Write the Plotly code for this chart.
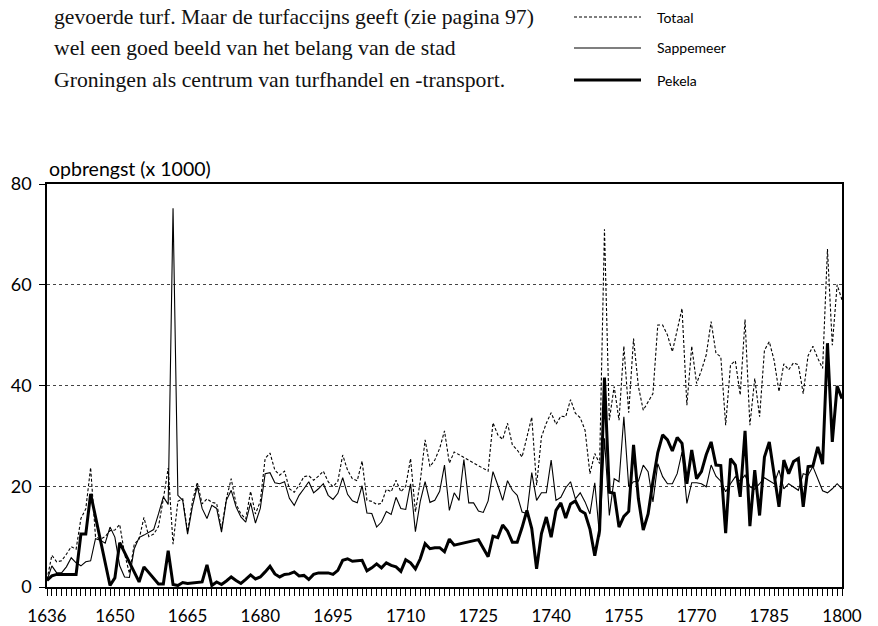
import plotly.graph_objects as go

years = list(range(1636, 1801))

totaal = [
    1.5, 6.3, 5.0, 5.2, 6.5, 8.0, 7.5, 13.6, 15.5, 23.7,          # 1636-1645
    10.0, 9.5, 10.0, 11.2, 11.3, 12.4, 6.6, 2.7, 8.5, 9.5,        # 1646-1655
    13.8, 10.0, 10.5, 12.0, 17.5, 23.6, 8.5, 17.0, 17.5, 11.0,    # 1656-1665
    17.0, 20.8, 16.5, 17.5, 16.8, 16.6, 11.5, 17.5, 21.5, 16.5,   # 1666-1675
    14.5, 13.5, 19.0, 14.5, 17.0, 25.5, 26.6, 23.2, 22.2, 23.0,   # 1676-1685
    19.5, 18.8, 20.2, 21.9, 22.1, 21.2, 22.0, 23.0, 20.9, 19.9,   # 1686-1695
    21.0, 26.2, 23.2, 21.5, 21.1, 25.0, 17.2, 17.0, 16.4, 16.6,   # 1696-1705
    19.4, 18.9, 21.2, 18.9, 20.0, 25.5, 14.9, 21.0, 29.2, 23.9,   # 1706-1715
    25.2, 27.5, 31.0, 24.6, 26.8, None, None, None, None, None,   # 1716-1725
    None, 23.0, 32.6, 30.2, 29.3, 32.5, 28.2, 27.2, 25.8, 30.0,   # 1726-1735
    33.7, 20.2, 29.8, 32.5, 34.6, 32.3, 33.9, 33.8, 37.2, 34.5,   # 1736-1745
    33.6, 31.1, 22.5, 26.5, 24.5, 71.0, 33.1, 39.8, 33.1, 47.8,   # 1746-1755
    34.6, 49.3, 39.8, 35.1, 36.8, 38.4, 52.0, 52.0, 50.0, 46.7,   # 1756-1765
    51.0, 55.3, 36.1, 47.8, 40.4, 43.0, 46.1, 52.7, 46.4, 45.7,   # 1766-1775
    32.1, 44.1, 44.9, 38.1, 53.1, 32.1, 41.4, 33.8, 47.0, 48.7,   # 1776-1785
    45.0, 38.8, 44.3, 43.1, 44.5, 44.1, 38.4, 45.9, 47.8, 45.4,   # 1786-1795
    43.4, 67.1, 48.0, 60.0, 57.0,                                 # 1796-1800
]

sappemeer = [
    1.3, 4.2, 2.8, 2.8, 4.0, 5.8, 4.8, 4.2, 5.0, 5.2,             # 1636-1645
    9.6, 9.3, 8.7, 11.9, 9.9, 4.2, 2.0, 1.9, 7.6, 9.8,            # 1646-1655
    10.3, 10.8, 11.4, 14.5, 17.9, 16.4, 75.2, 18.2, 17.2, 10.5,   # 1656-1665
    16.0, 20.0, 15.6, 13.6, 16.2, 15.6, 10.9, 17.2, 19.2, 15.9,   # 1666-1675
    13.9, 12.9, 16.7, 12.7, 15.6, 22.5, 22.7, 20.7, 20.5, 20.9,   # 1676-1685
    17.6, 16.2, 18.2, 19.5, 20.9, 18.7, 19.5, 20.5, 18.2, 17.4,   # 1686-1695
    18.6, 21.7, 18.4, 17.1, 16.7, 20.1, 14.7, 14.6, 11.9, 12.9,   # 1696-1705
    15.0, 14.4, 17.8, 15.6, 15.4, 20.5, 11.0, 17.0, 20.9, 16.8,   # 1706-1715
    17.2, 19.0, 24.2, 15.2, 18.7, 17.2, 25.3, 16.7, 16.7, 15.1,   # 1716-1725
    14.8, 17.1, 22.9, 20.2, 17.2, 21.1, 19.2, 18.2, 14.9, 14.6,   # 1726-1735
    22.7, 17.2, 18.7, 18.7, 25.2, 17.2, 17.8, 19.7, 20.9, 17.5,   # 1736-1745
    18.7, 16.9, 14.5, 20.7, 10.0, 29.5, 14.2, 21.5, 20.9, 33.8,   # 1746-1755
    19.9, 20.9, 21.0, 24.2, 22.9, 16.9, 24.5, 21.9, 20.5, 20.5,   # 1756-1765
    22.5, 26.8, 16.6, 20.7, 20.7, 20.5, 19.9, 24.2, 22.0, 21.0,   # 1766-1775
    18.9, 20.5, 21.9, 21.0, 22.2, 19.9, 19.4, 20.5, 21.7, 21.1,   # 1776-1785
    20.5, 23.2, 19.5, 20.5, 19.9, 19.2, 22.5, 22.2, 23.9, 21.3,   # 1786-1795
    19.1, 18.7, 19.5, 20.5, 19.5,                                 # 1796-1800
]

pekela = [
    1.3, 2.2, 2.5, 2.5, 2.5, 2.5, 2.5, 10.5, 10.5, 18.5,          # 1636-1645
    None, None, None, 0.3, 1.8, 8.8, None, None, None, 1.0,       # 1646-1655
    4.0, None, None, 0.6, 0.6, 7.2, 0.5, 0.3, 0.9, 0.7,           # 1656-1665
    0.8, 1.0, 1.0, 4.4, 0.3, 1.0, 0.5, 1.2, 2.0, 1.3,             # 1666-1675
    0.7, 1.5, 2.4, 1.6, 2.0, 3.0, 4.1, 2.6, 2.0, 2.5,             # 1676-1685
    2.6, 3.0, 2.2, 2.3, 1.5, 2.5, 2.8, 2.8, 2.8, 2.5,             # 1686-1695
    3.3, 5.3, 5.6, 5.1, 5.2, 5.3, 3.2, 3.8, 4.6, 3.8,             # 1696-1705
    4.8, 4.3, 4.0, 3.1, 5.4, 4.8, 3.6, 5.6, 8.6, 7.6,             # 1706-1715
    7.8, 7.8, 7.0, 9.5, 8.3, None, None, None, None, 9.4,         # 1716-1725
    None, 6.0, 10.1, 9.8, 12.3, 11.1, 8.9, 8.9, 11.8, 15.2,       # 1726-1735
    11.6, 3.6, 10.6, 13.9, 9.9, 15.2, 16.7, 13.7, 16.5, 17.1,     # 1736-1745
    15.2, 14.6, 11.5, 6.2, 11.3, 41.6, 18.8, 18.6, 11.9, 14.0,    # 1746-1755
    15.0, 28.2, 17.5, 11.3, 14.5, 21.0, 26.7, 30.2, 29.2, 27.0,   # 1756-1765
    29.7, 28.5, 20.5, 27.2, 21.5, 22.9, 26.3, 28.8, 24.2, 24.1,   # 1766-1775
    10.7, 25.5, 24.2, 17.9, 31.0, 12.1, 23.2, 14.2, 25.8, 28.8,   # 1776-1785
    22.2, 15.9, 25.2, 22.5, 24.9, 25.5, 15.9, 23.9, 24.0, 27.8,   # 1786-1795
    24.4, 48.4, 28.8, 39.9, 37.4,                                 # 1796-1800
]

series_names = ["Totaal", "Sappemeer", "Pekela"]
x_tick_labels = [1636, 1650, 1665, 1680, 1695, 1710, 1725, 1740, 1755, 1770, 1785, 1800]
y_tick_labels = [0, 20, 40, 60, 80]
y_title = "opbrengst (x 1000)"
intro_lines = [
    "gevoerde turf. Maar de turfaccijns geeft (zie pagina 97)",
    "wel een goed beeld van het belang van de stad",
    "Groningen als centrum van turfhandel en -transport.",
]

# The page body has an 8px default margin, so the figure is drawn 8px smaller
# and all reference-pixel positions below are shifted by that offset.
OFF = 8
W, H = 878 - OFF, 626 - OFF
PLOT_L, PLOT_R, PLOT_T, PLOT_B = 47, 842, 184, 587   # reference pixels
ML, MR = PLOT_L - OFF, 878 - PLOT_R - OFF + OFF - OFF + OFF - OFF
MR = W - (PLOT_R - OFF)
MT = PLOT_T - OFF
MB = H - (PLOT_B - OFF)
PW, PH = W - ML - MR, H - MT - MB


def px_x(px):
    return (px - OFF - ML) / PW


def px_y(py):
    return (H - MB - (py - OFF)) / PH


SANS = "Lato, 'Open Sans', sans-serif"
SERIF = "'Liberation Serif', 'DejaVu Serif', serif"

styles = {
    "Totaal": dict(color="black", width=1.1, dash="3px,2px"),
    "Sappemeer": dict(color="black", width=1.1),
    "Pekela": dict(color="black", width=3),
}
data = {"Totaal": totaal, "Sappemeer": sappemeer, "Pekela": pekela}

fig = go.Figure()
for name in series_names:
    fig.add_trace(go.Scatter(
        x=years, y=data[name], mode="lines", name=name,
        line=styles[name], connectgaps=True, showlegend=False,
    ))

fig.update_layout(
    width=W, height=H,
    margin=dict(l=ML, r=MR, t=MT, b=MB, pad=0, autoexpand=False),
    paper_bgcolor="white", plot_bgcolor="white",
    font=dict(family=SANS, color="black"),
)

fig.update_xaxes(
    range=[1636, 1800], automargin=False,
    tickvals=x_tick_labels, ticktext=[str(v) for v in x_tick_labels],
    ticks="outside", ticklen=7, tickwidth=1, tickcolor="black",
    minor=dict(dtick=1, tick0=1636, ticks="outside", ticklen=7, tickwidth=1, tickcolor="black", showgrid=False),
    showline=True, linecolor="black", linewidth=1.5, mirror=True,
    showgrid=False, zeroline=False,
    tickfont=dict(family=SANS, size=17, color="black"),
    ticklabelstandoff=6,
)
fig.update_yaxes(
    range=[0, 80], automargin=False,
    tickvals=y_tick_labels,
    ticks="outside", ticklen=6, tickwidth=1, tickcolor="black",
    showline=True, linecolor="black", linewidth=1.5, mirror=True,
    showgrid=True, gridcolor="#444444", gridwidth=1, griddash="3px,3px",
    zeroline=False,
    tickfont=dict(family=SANS, size=18, color="black"),
    ticklabelstandoff=4,
)

annotations = [
    dict(text=y_title, x=px_x(47), y=px_y(168), xref="paper", yref="paper",
         xanchor="left", yanchor="middle", showarrow=False,
         font=dict(family=SANS, size=19.5, color="black")),
]
line_ys = [17, 48, 80]
for txt, yy in zip(intro_lines, line_ys):
    annotations.append(dict(text=txt, x=px_x(52), y=px_y(yy), xref="paper", yref="paper",
                            xanchor="left", yanchor="middle", showarrow=False,
                            font=dict(family=SERIF, size=21.7, color="#111111")))

shapes = []
for name, yy in zip(series_names, line_ys):
    st = styles[name]
    shapes.append(dict(type="line", xref="paper", yref="paper",
                       x0=px_x(574), x1=px_x(641), y0=px_y(yy), y1=px_y(yy),
                       line=dict(color="black", width=st["width"], dash=st.get("dash", "solid"))))
    annotations.append(dict(text=name, x=px_x(655), y=px_y(yy), xref="paper", yref="paper",
                            xanchor="left", yanchor="middle", showarrow=False,
                            font=dict(family=SANS, size=14, color="black")))

fig.update_layout(annotations=annotations, shapes=shapes)

assert len(totaal) == len(years) == len(sappemeer) == len(pekela)
fig.write_html("out.html")
